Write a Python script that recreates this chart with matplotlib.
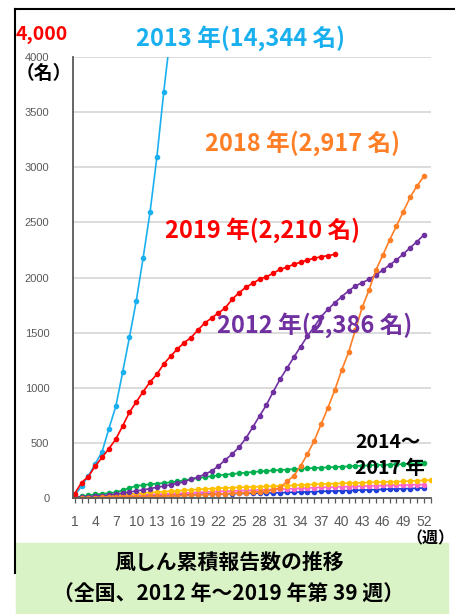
import matplotlib
matplotlib.use("Agg")
import matplotlib.pyplot as plt
import numpy as np

plt.rcParams['font.family'] = ['Liberation Sans', 'Noto Sans CJK JP', 'DejaVu Sans']
jp = ['Noto Sans CJK JP', 'DejaVu Sans']

# 累積報告数（週ごと）
y2012 = [5, 8, 12, 17, 22, 28, 36, 45, 55, 64, 74, 85, 97, 108, 120, 132, 148, 170, 190, 215,
         245, 290, 345, 399, 460, 541, 641, 744, 844, 964, 1077, 1176, 1276, 1372, 1469, 1554,
         1645, 1712, 1771, 1826, 1878, 1923, 1953, 1984, 2023, 2068, 2113, 2159, 2213, 2270,
         2325, 2386]
y2013 = [20, 110, 200, 310, 420, 630, 830, 1140, 1460, 1790, 2180, 2590, 3090, 3680, 4210]
y2014 = [5, 15, 25, 32, 38, 44, 52, 70, 92, 110, 118, 125, 130, 136, 142, 150, 160, 170, 180,
         190, 198, 205, 212, 218, 224, 230, 236, 241, 246, 250, 254, 258, 262, 266, 269, 272,
         275, 278, 281, 284, 287, 290, 293, 296, 299, 301, 303, 305, 308, 311, 313, 316]
y2015 = [2, 5, 8, 12, 16, 20, 25, 30, 35, 40, 45, 50, 54, 58, 62, 66, 70, 74, 78, 82, 85, 88,
         91, 94, 97, 99, 101, 103, 105, 107, 109, 112, 115, 118, 121, 124, 127, 129, 131, 133,
         135, 137, 139, 141, 143, 145, 147, 149, 151, 154, 157, 160, 162]
y2016 = [1, 3, 5, 8, 10, 13, 16, 19, 22, 25, 28, 31, 34, 37, 40, 42, 45, 48, 51, 54, 57, 60,
         63, 65, 67, 69, 71, 73, 75, 77, 79, 82, 85, 88, 91, 94, 96, 98, 100, 102, 104, 106,
         108, 110, 112, 114, 115, 116, 118, 119, 121, 122]
y2017 = [1, 2, 4, 6, 8, 10, 12, 14, 16, 18, 19, 20, 22, 23, 25, 27, 29, 31, 33, 35, 36, 38,
         39, 40, 41, 42, 43, 44, 45, 47, 48, 50, 52, 54, 56, 58, 60, 62, 64, 66, 68, 70, 72,
         74, 76, 78, 80, 82, 84, 86, 88, 91]
y2018 = [1, 2, 3, 4, 5, 6, 7, 8, 9, 10, 12, 14, 16, 18, 20, 22, 24, 26, 28, 30, 33, 36, 39,
         42, 45, 48, 52, 56, 62, 72, 95, 150, 200, 290, 400, 520, 670, 820, 980, 1160, 1320,
         1524, 1730, 1887, 2068, 2201, 2340, 2467, 2597, 2727, 2830, 2917]
y2019 = [40, 140, 195, 290, 368, 448, 533, 653, 778, 872, 964, 1052, 1122, 1215, 1285, 1352,
         1410, 1455, 1524, 1587, 1633, 1678, 1725, 1802, 1862, 1911, 1947, 1984, 2007, 2038,
         2074, 2093, 2120, 2138, 2159, 2174, 2189, 2198, 2210]

series = [
    (y2017, '#1F3FD8'),
    (y2016, '#FF66CC'),
    (y2015, '#FFC000'),
    (y2014, '#00B050'),
    (y2013, '#1AB0EF'),
    (y2012, '#7030A0'),
    (y2018, '#FF7F27'),
    (y2019, '#FF0000'),
]

W, H = 456, 614
fig = plt.figure(figsize=(W / 100, H / 100), dpi=100)

def fx(px):
    return px / W

def fy(py):
    return 1 - py / H

ax = fig.add_axes([fx(73), fy(498), fx(431) - fx(73), (498 - 57) / H])

for vals, col in series:
    weeks = np.arange(1, len(vals) + 1)
    ax.plot(weeks, vals, color=col, lw=1.2, marker='o', ms=3, clip_on=True)

ax.set_xlim(0.75, 53.05)
ax.set_ylim(0, 4000)
ax.set_yticks(np.arange(0, 4001, 500))
ax.set_yticklabels([str(v) for v in range(0, 4001, 500)])
ax.set_xticks(np.arange(1, 53, 3))
ax.set_xticks(np.arange(1, 54, 1), minor=True)
ax.grid(axis='y', color='#D9D9D9', lw=1.3)
ax.set_axisbelow(True)
for s in ['top', 'right']:
    ax.spines[s].set_visible(False)
ax.spines['left'].set_color('#595959')
ax.spines['left'].set_linewidth(1.3)
ax.spines['bottom'].set_color('#595959')
ax.spines['bottom'].set_linewidth(1.3)
ax.tick_params(axis='y', length=0, pad=17, labelsize=8, labelcolor='#595959')
ax.tick_params(axis='x', which='both', length=3.5, width=0.9, color='#595959',
               direction='out', pad=9, labelsize=10, labelcolor='#595959')

# 注記
fig.text(fx(16), fy(34), '4,000', color='#FF0000', fontsize=14, fontweight='bold',
         va='center', ha='left', family=jp)
fig.text(fx(44), fy(73), '（名）', color='black', fontsize=13.5, fontweight='bold',
         va='center', ha='center', family=jp)
fig.text(fx(136), fy(38), '2013 年(14,344 名)', color='#1AB0EF', fontsize=17,
         fontweight='bold', va='center', ha='left', family=jp)
fig.text(fx(205), fy(143), '2018 年(2,917 名)', color='#FF7F27', fontsize=17,
         fontweight='bold', va='center', ha='left', family=jp)
fig.text(fx(165), fy(230), '2019 年(2,210 名)', color='#FF0000', fontsize=17,
         fontweight='bold', va='center', ha='left', family=jp)
fig.text(fx(217), fy(325), '2012 年(2,386 名)', color='#7030A0', fontsize=17,
         fontweight='bold', va='center', ha='left', family=jp)
fig.text(fx(355), fy(443), '2014～', color='black', fontsize=14, fontweight='bold',
         va='center', ha='left', family=jp)
fig.text(fx(355), fy(468), '2017 年', color='black', fontsize=14, fontweight='bold',
         va='center', ha='left', family=jp)
fig.text(fx(430), fy(538), '（週）', color='black', fontsize=11.5, fontweight='bold',
         va='center', ha='center', family=jp)

# 外枠
fig.add_artist(plt.Line2D([fx(15), fx(456)], [fy(9), fy(9)], color='black', lw=1.5))
fig.add_artist(plt.Line2D([fx(15), fx(15)], [fy(9), fy(573)], color='black', lw=1.5))

# タイトル枠
fig.add_artist(plt.Rectangle((fx(16), fy(614)), fx(448) - fx(16), (614 - 543) / H,
                             color='#DAF3C6', zorder=0))
fig.text(fx(229), fy(562), '風しん累積報告数の推移', fontsize=15, fontweight='bold',
         ha='center', va='center', family=jp)
fig.text(fx(229), fy(594), '（全国、2012 年～2019 年第 39 週）', fontsize=15,
         fontweight='bold', ha='center', va='center', family=jp)

fig.savefig('out.png', dpi=100)
